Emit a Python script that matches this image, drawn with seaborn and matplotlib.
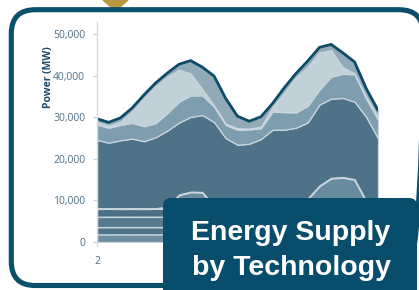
import numpy as np
import pandas as pd
import seaborn as sns
import matplotlib.pyplot as plt
from matplotlib.patches import FancyBboxPatch, Polygon
from matplotlib.ticker import FuncFormatter

sns.set_theme(style='white')
plt.rcParams['font.family'] = ['Open Sans', 'DejaVu Sans']

# hourly supply (MW), stacked bottom -> top
hours = [2, 4, 6, 8, 10, 12, 14, 16, 18, 20, 22, 24, 26,
         28, 30, 32, 34, 36, 38, 40, 42, 44, 46, 48, 50]
base_a = [1850, 1850, 1860, 1850, 1860, 1850, 1860, 1850, 1850, 1860, 1850, 1860, 1850,
          1850, 1860, 1850, 1860, 1850, 1850, 1860, 1850, 1860, 1850, 1850, 1860]
base_b = [1700, 1700, 1690, 1700, 1690, 1700, 1690, 1700, 1700, 1690, 1700, 1690, 1700,
          1700, 1690, 1700, 1690, 1700, 1700, 1690, 1700, 1690, 1700, 1700, 1690]
base_c = [2560, 2560, 2560, 2560, 2560, 2560, 2560, 2560, 2560, 2560, 2560, 2560, 2560,
          2560, 2560, 2560, 2560, 2560, 2560, 2560, 2560, 2560, 2560, 2560, 2560]
base_d = [2030, 2050, 2030, 2040, 2030, 2050, 2060, 2040, 2030, 2050, 2030, 2040, 2030,
          2050, 2030, 2040, 2030, 2050, 2040, 2030, 2050, 2040, 2030, 2050, 2030]
solar = [0, 0, 0, 0, 0, 0, 300, 3300, 4000, 3900, 600, 0, 0,
         0, 0, 0, 0, 0, 2400, 5500, 7300, 7500, 7000, 1800, 0]
mid_load = [16460, 15760, 16360, 16760, 16160, 17060, 18360, 17310, 18010, 18510, 20160, 16860, 15290,
            15510, 16660, 18910, 18910, 19360, 18260, 19460, 19060, 19060, 18660, 20160, 16860]
gas = [3700, 3600, 3700, 3800, 3600, 3400, 4200, 5050, 5150, 4750, 3700, 3200, 3620,
       3450, 2600, 4350, 4250, 3700, 4000, 3600, 5300, 5800, 6600, 4400, 4500]
peak = [600, 500, 800, 2800, 6700, 8900, 8800, 7700, 5300, 1500, 300, 300, 350,
        200, 400, 1100, 4700, 8500, 9400, 9000, 6400, 1600, 200, 400, 700]
imports = [800, 800, 900, 770, 810, 770, 850, 1300, 3100, 5300, 7070, 6040, 2910,
           1780, 2360, 880, 1180, 890, 1400, 1180, 1380, 3460, 2780, 2030, 1550]
x_ticks = [2, 26, 50]
x_tick_labels = ['2', '', '']  # later labels sit under the title box

layers = [base_a, base_b, base_c, base_d, solar, mid_load, gas, peak, imports]
colors = ['#6c8fa3', '#4f7389', '#55798f', '#4b6f86', '#688ba0',
          '#4e7389', '#7e9dae', '#c2d0d8', '#91aab8']

df = pd.DataFrame({'hour': hours, 'total': np.sum(layers, axis=0)})

fig = plt.figure(figsize=(4.19, 2.90), dpi=100)
ax = fig.add_axes([0.2315, 0.1655, 0.6706, 0.7586])

polys = ax.stackplot(hours, *layers, colors=colors,
                     edgecolor='#c9d6dd', linewidth=0.9)
polys[4].set_linewidth(2.0)
sns.lineplot(data=df, x='hour', y='total', color='#0d4a68', lw=2, ax=ax)

ax.set_xlim(2, 50)
ax.set_ylim(0, 53000)
ax.set_xticks(x_ticks)
ax.set_xticklabels(x_tick_labels)
ax.set_yticks([0, 10000, 20000, 30000, 40000, 50000])
ax.yaxis.set_major_formatter(FuncFormatter(lambda v, p: f'{int(v):,}'))
ax.tick_params(axis='both', labelsize=7.5, labelcolor='#4f6f86', color='#c8d0d6',
               length=3, width=0.8, left=True, bottom=True)
ax.tick_params(axis='y', pad=5.5)
ax.tick_params(axis='x', pad=7)
ax.set_xlabel('')
ax.set_ylabel('Power (MW)', fontsize=7.5, fontweight='bold', color='#1e4a66')
ax.yaxis.set_label_coords(-0.152, 0.75)
for s in ['top', 'right', 'bottom']:
    ax.spines[s].set_visible(False)
ax.spines['left'].set_color('#d5dce1')
ax.spines['left'].set_linewidth(1)

# card frame and title box, in pixel space
ov = fig.add_axes([0, 0, 1, 1], zorder=5)
ov.set_xlim(0, 419)
ov.set_ylim(290, 0)
ov.axis('off')
ov.patch.set_alpha(0)

ov.add_patch(Polygon([(103, 0), (128, 0), (115.5, 11)], closed=True,
                     color='#b8973e', zorder=1))
ov.add_patch(FancyBboxPatch((11.3, 9.7), 423 - 11.3, 285.5 - 9.7,
                            boxstyle='round,pad=0,rounding_size=24',
                            fill=False, edgecolor='#0b4f6d', lw=3.7, zorder=2))
ov.add_patch(FancyBboxPatch((163, 198), 417 - 163, 120,
                            boxstyle='round,pad=0,rounding_size=8',
                            facecolor='#084d6c', edgecolor='none', zorder=3))
ov.text(291, 240, 'Energy Supply', ha='center', va='baseline', color='white',
        fontsize=20.5, fontweight='bold', family=['Liberation Sans', 'DejaVu Sans'], zorder=4)
ov.text(291, 275, 'by Technology', ha='center', va='baseline', color='white',
        fontsize=20.5, fontweight='bold', family=['Liberation Sans', 'DejaVu Sans'], zorder=4)

fig.savefig('out.png', dpi=100, facecolor='white')
